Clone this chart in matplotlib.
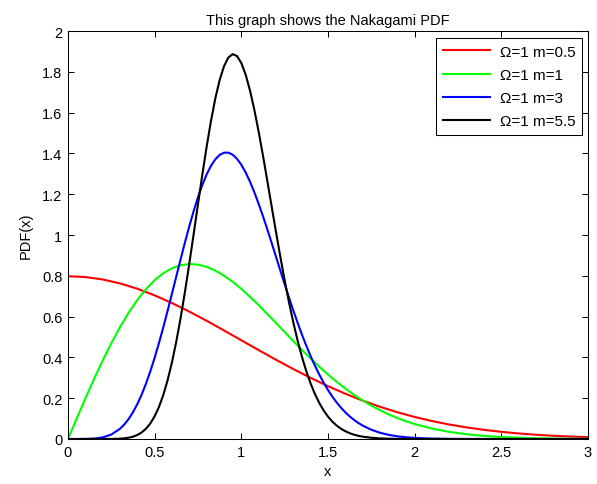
import matplotlib

matplotlib.use("Agg")
import matplotlib.pyplot as plt

# Nakagami PDF curves (Omega = 1)
x_m05 = [0.0, 0.1, 0.2, 0.3, 0.4, 0.5, 0.6, 0.7, 0.8, 0.9, 1.0,
         1.1, 1.2, 1.3, 1.4, 1.5, 1.6, 1.7, 1.8, 1.9, 2.0,
         2.1, 2.2, 2.3, 2.4, 2.5, 2.6, 2.7, 2.8, 2.9, 3.0]
pdf_m05 = [0.7979, 0.7939, 0.7821, 0.7628, 0.7365, 0.7041, 0.6664, 0.6245,
           0.5794, 0.5322, 0.4839, 0.4357, 0.3884, 0.3427, 0.2995, 0.2590,
           0.2218, 0.1881, 0.1579, 0.1312, 0.1080, 0.0880, 0.0709, 0.0567,
           0.0448, 0.0351, 0.0272, 0.0208, 0.0158, 0.0119, 0.0089]

x_m1 = [0.0, 0.05, 0.1, 0.15, 0.2, 0.25, 0.3, 0.35, 0.4, 0.45, 0.5,
        0.55, 0.6, 0.65, 0.7, 0.75, 0.8, 0.85, 0.9, 0.95, 1.0,
        1.05, 1.1, 1.15, 1.2, 1.25, 1.3, 1.35, 1.4, 1.45, 1.5,
        1.55, 1.6, 1.65, 1.7, 1.75, 1.8, 1.85, 1.9, 1.95, 2.0,
        2.1, 2.2, 2.3, 2.4, 2.5, 2.6, 2.7, 2.8, 2.9, 3.0]
pdf_m1 = [0.0, 0.0998, 0.1980, 0.2933, 0.3843, 0.4697, 0.5484, 0.6193,
          0.6817, 0.7350, 0.7788, 0.8129, 0.8372, 0.8520, 0.8577, 0.8547,
          0.8437, 0.8254, 0.8007, 0.7706, 0.7358, 0.6973, 0.6560, 0.6129,
          0.5686, 0.5240, 0.4798, 0.4363, 0.3944, 0.3542, 0.3162, 0.2805,
          0.2474, 0.2168, 0.1890, 0.1637, 0.1410, 0.1207, 0.1028, 0.0870,
          0.0733, 0.0511, 0.0348, 0.0232, 0.0151, 0.0097, 0.0060, 0.0037,
          0.0022, 0.0013, 0.0007]

x_peaked = [0.0, 0.05, 0.1, 0.15, 0.2, 0.25, 0.3,
            0.325, 0.35, 0.375, 0.4, 0.425, 0.45, 0.475, 0.5,
            0.525, 0.55, 0.575, 0.6, 0.625, 0.65, 0.675, 0.7,
            0.725, 0.75, 0.775, 0.8, 0.825, 0.85, 0.875, 0.9,
            0.925, 0.95, 0.975, 1.0, 1.025, 1.05, 1.075, 1.1,
            1.125, 1.15, 1.175, 1.2, 1.225, 1.25, 1.275, 1.3,
            1.325, 1.35, 1.375, 1.4, 1.425, 1.45, 1.475, 1.5,
            1.525, 1.55, 1.575, 1.6, 1.625, 1.65, 1.675,
            1.7, 1.75, 1.8, 1.85, 1.9, 1.95, 2.0,
            2.1, 2.2, 2.3, 2.5, 3.0]

pdf_m3 = [0.0, 0.0000, 0.0003, 0.0019, 0.0077, 0.0219, 0.0501,
          0.0713, 0.0982, 0.1313, 0.1711, 0.2178, 0.2714, 0.3318, 0.3986,
          0.4710, 0.5484, 0.6294, 0.7130, 0.7977, 0.8819, 0.9644, 1.0434,
          1.1174, 1.1852, 1.2455, 1.2971, 1.3392, 1.3711, 1.3928, 1.4036,
          1.4038, 1.3936, 1.3735, 1.3443, 1.3066, 1.2615, 1.2099, 1.1527,
          1.0919, 1.0275, 0.9611, 0.8936, 0.8259, 0.7589, 0.6933, 0.6299,
          0.5689, 0.5111, 0.4567, 0.4058, 0.3587, 0.3154, 0.2759, 0.2401,
          0.2078, 0.1790, 0.1534, 0.1307, 0.1110, 0.0937, 0.0787,
          0.0658, 0.0453, 0.0306, 0.0203, 0.0132, 0.0085, 0.0053,
          0.0020, 0.0007, 0.0002, 0.0, 0.0]

pdf_m55 = [0.0, 0.0, 0.0, 0.0, 0.0000, 0.0003, 0.0016,
           0.0033, 0.0063, 0.0114, 0.0196, 0.0321, 0.0504, 0.0762, 0.1114,
           0.1575, 0.2164, 0.2892, 0.3765, 0.4785, 0.5945, 0.7226, 0.8605,
           1.0047, 1.1513, 1.2958, 1.4334, 1.5594, 1.6695, 1.7598, 1.8273,
           1.8700, 1.8866, 1.8773, 1.8431, 1.7860, 1.7085, 1.6140, 1.5062,
           1.3887, 1.2653, 1.1396, 1.0148, 0.8935, 0.7782, 0.6703, 0.5713,
           0.4817, 0.4020, 0.3321, 0.2715, 0.2198, 0.1761, 0.1398, 0.1098,
           0.0855, 0.0659, 0.0503, 0.0381, 0.0285, 0.0212, 0.0156,
           0.0114, 0.0059, 0.0029, 0.0014, 0.0007, 0.0003, 0.0001,
           0.0, 0.0, 0.0, 0.0, 0.0]

labels = ["\u03a9=1 m=0.5", "\u03a9=1 m=1", "\u03a9=1 m=3", "\u03a9=1 m=5.5"]
x_ticks = [0, 0.5, 1, 1.5, 2, 2.5, 3]
x_tick_labels = ["0", "0.5", "1", "1.5", "2", "2.5", "3"]
y_ticks = [0, 0.2, 0.4, 0.6, 0.8, 1.0, 1.2, 1.4, 1.6, 1.8, 2.0]
y_tick_labels = ["0", "0.2", "0.4", "0.6", "0.8", "1", "1.2", "1.4", "1.6", "1.8", "2"]

plt.rcParams["font.family"] = ["Liberation Sans", "DejaVu Sans"]
plt.rcParams["font.size"] = 10

fig = plt.figure(figsize=(5.97, 4.85), dpi=100)
ax = fig.add_axes([0.1139, 0.0928, 0.8710, 0.8412])

lw = 1.5
ax.plot(x_m05, pdf_m05, color="#ff0000", linewidth=lw, label=labels[0])
ax.plot(x_m1, pdf_m1, color="#00ff00", linewidth=lw, label=labels[1])
ax.plot(x_peaked, pdf_m3, color="#0000ff", linewidth=lw, label=labels[2])
ax.plot(x_peaked, pdf_m55, color="#000000", linewidth=lw, label=labels[3])

ax.set_xlim(0, 3)
ax.set_ylim(0, 2)
ax.set_xticks(x_ticks, x_tick_labels)
ax.set_yticks(y_ticks, y_tick_labels)
ax.tick_params(direction="in", top=True, right=True, length=4, width=0.75,
               labelsize=10.5, pad=4)
for spine in ax.spines.values():
    spine.set_linewidth(0.75)

ax.set_title("This graph shows the Nakagami PDF", fontsize=10.5, pad=5)
ax.set_xlabel("x", fontsize=10.5, labelpad=4)
ax.set_ylabel("PDF(x)", fontsize=10.5, labelpad=7)

leg = ax.legend(loc="upper right", bbox_to_anchor=(0.9885, 0.983),
                fancybox=False, edgecolor="black", framealpha=1,
                handlelength=3.1, labelspacing=0.6, borderaxespad=0.0,
                borderpad=0.45, handletextpad=0.6, fontsize=11)
leg.get_frame().set_linewidth(0.75)

fig.savefig("out.png", dpi=100)
